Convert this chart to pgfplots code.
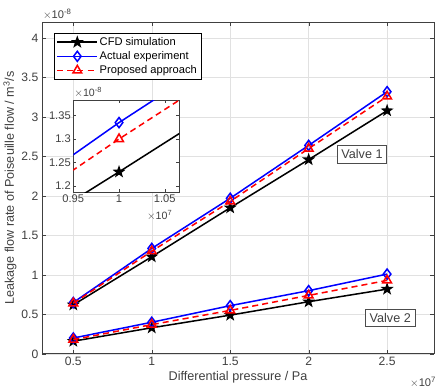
\documentclass[border=0pt]{standalone}
\usepackage{fontspec}
\setmainfont{Liberation Sans}
\usepackage{pgfplots}
\usepackage{pgfplotstable}
\pgfplotsset{compat=1.18}
\usetikzlibrary{plotmarks}
\pgfdeclareplotmark{pentagram}{%
 \pgfpathmoveto{\pgfpointpolar{90}{\pgfplotmarksize}}%
 \pgfpathlineto{\pgfpointpolar{126}{0.4\pgfplotmarksize}}%
 \pgfpathlineto{\pgfpointpolar{162}{\pgfplotmarksize}}%
 \pgfpathlineto{\pgfpointpolar{198}{0.4\pgfplotmarksize}}%
 \pgfpathlineto{\pgfpointpolar{234}{\pgfplotmarksize}}%
 \pgfpathlineto{\pgfpointpolar{270}{0.4\pgfplotmarksize}}%
 \pgfpathlineto{\pgfpointpolar{306}{\pgfplotmarksize}}%
 \pgfpathlineto{\pgfpointpolar{342}{0.4\pgfplotmarksize}}%
 \pgfpathlineto{\pgfpointpolar{18}{\pgfplotmarksize}}%
 \pgfpathlineto{\pgfpointpolar{54}{0.4\pgfplotmarksize}}%
 \pgfpathclose
 \pgfusepathqfillstroke}
\definecolor{tickgray}{RGB}{64,64,64}
\definecolor{gridgray}{RGB}{225,225,225}
\pgfplotstableread{
x cfd exp prop
0.5 0.62 0.65 0.64
1 1.23 1.335 1.30
1.5 1.85 1.97 1.93
2 2.46 2.64 2.60
2.5 3.08 3.32 3.26
}\valveone
\pgfplotstableread{
x cfd exp prop
0.5 0.16 0.20 0.18
1 0.33 0.40 0.37
1.5 0.49 0.61 0.55
2 0.66 0.80 0.74
2.5 0.82 1.01 0.93
}\valvetwo
\begin{document}
\begin{tikzpicture}
\pgfplotsset{
 cfd/.style={black, line width=1.5pt, mark=pentagram, mark size=4.5pt, mark options={fill=black}},
 expe/.style={blue, line width=1.5pt, mark=diamond, mark size=5pt},
 prop/.style={red, line width=1.5pt, dashed, dash pattern=on 6pt off 4pt, mark=triangle, mark size=5pt, mark options={solid}},
}
\begin{axis}[
 name=main,
 scale only axis, width=388pt, height=328pt,
 at={(0,0)}, anchor=south west,
 xmin=0.3, xmax=2.8, ymin=0, ymax=4.2,
 xtick={0.5,1,1.5,2,2.5}, ytick={0,0.5,1,1.5,2,2.5,3,3.5,4},
 scaled ticks=false,
 /pgf/number format/assume math mode=true,
 tick align=inside, major tick length=4pt,
 grid=major, grid style={gridgray, line width=0.5pt},
 axis line style={tickgray, line width=0.8pt},
 tick style={tickgray},
 ticklabel style={font=\fontsize{12}{14}\selectfont, text=tickgray},
 xlabel={Differential pressure / Pa},
 ylabel={Leakage flow rate of Poiseuille flow / m\textsuperscript{3}/s},
 label style={font=\fontsize{12.5}{14}\selectfont, text=tickgray},
 xlabel style={yshift=2pt},
 ylabel style={yshift=-2pt},
 clip mode=individual,
 legend style={at={(0.03,0.967)}, anchor=north west, draw=black,
   font=\fontsize{11}{13}\selectfont, row sep=1.5pt, inner sep=2.5pt,
   nodes={inner sep=1.5pt}},
 legend cell align=left,
 legend image post style={line width=1.5pt},
 legend image code/.code={\draw[mark repeat=2, mark phase=2] plot coordinates {(0cm,0cm) (0.7cm,0cm) (1.4cm,0cm)};},
]
\addplot[cfd] table[x=x,y=cfd] {\valveone};
\addlegendentry{CFD simulation}
\addplot[expe] table[x=x,y=exp] {\valveone};
\addlegendentry{Actual experiment}
\addplot[prop] table[x=x,y=prop] {\valveone};
\addlegendentry{Proposed approach}
\addplot[cfd, forget plot] table[x=x,y=cfd] {\valvetwo};
\addplot[expe, forget plot] table[x=x,y=exp] {\valvetwo};
\addplot[prop, forget plot] table[x=x,y=prop] {\valvetwo};
\node[draw=black!70, fill=white, line width=0.5pt, font=\fontsize{12.5}{14}\selectfont, text=tickgray, inner sep=4pt] at (axis cs:2.34,2.53) {Valve 1};
\node[draw=black!70, fill=white, line width=0.5pt, font=\fontsize{12.5}{14}\selectfont, text=tickgray, inner sep=4pt] at (axis cs:2.52,0.46) {Valve 2};
\node[anchor=south west, font=\fontsize{11}{13}\selectfont, text=tickgray, inner sep=1pt] at ([yshift=2pt]rel axis cs:0,1) {$\times$10\textsuperscript{-8}};
\node[anchor=north east, font=\fontsize{11}{13}\selectfont, text=tickgray, inner sep=1pt] at ([yshift=-22pt,xshift=3pt]rel axis cs:1,0) {$\times$10\textsuperscript{7}};
\path ([yshift=22pt]rel axis cs:0,1) coordinate (topspace);
\end{axis}
\path (topspace) ++(0,0);
\begin{axis}[
 scale only axis, width=105pt, height=91pt,
 at={(31pt,160pt)}, anchor=south west,
 xmin=0.95, xmax=1.066, ymin=1.187, ymax=1.383,
 xtick={0.95,1,1.05}, ytick={1.2,1.25,1.3,1.35},
 xticklabels={0.95,1,1.05}, yticklabels={1.2,1.25,1.3,1.35},
 scaled ticks=false,
 clip mode=individual,
 tick align=inside, major tick length=3pt,
 axis background/.style={fill=white},
 axis line style={tickgray, line width=0.8pt},
 tick style={tickgray},
 ticklabel style={font=\fontsize{11}{13}\selectfont, text=tickgray},
 xticklabel style={yshift=1pt},
 yticklabel style={xshift=1pt},
]
\addplot[cfd] table[x=x,y=cfd] {\valveone};
\addplot[expe] table[x=x,y=exp] {\valveone};
\addplot[prop] table[x=x,y=prop] {\valveone};
\node[anchor=south west, font=\fontsize{10.5}{12}\selectfont, text=tickgray, inner sep=1pt] at ([yshift=1pt]rel axis cs:0,1) {$\times$10\textsuperscript{-8}};
\node[anchor=north east, font=\fontsize{10.5}{12}\selectfont, text=tickgray, inner sep=1pt] at ([yshift=-17pt,xshift=-6pt]rel axis cs:1,0) {$\times$10\textsuperscript{7}};
\end{axis}
\end{tikzpicture}
\end{document}
